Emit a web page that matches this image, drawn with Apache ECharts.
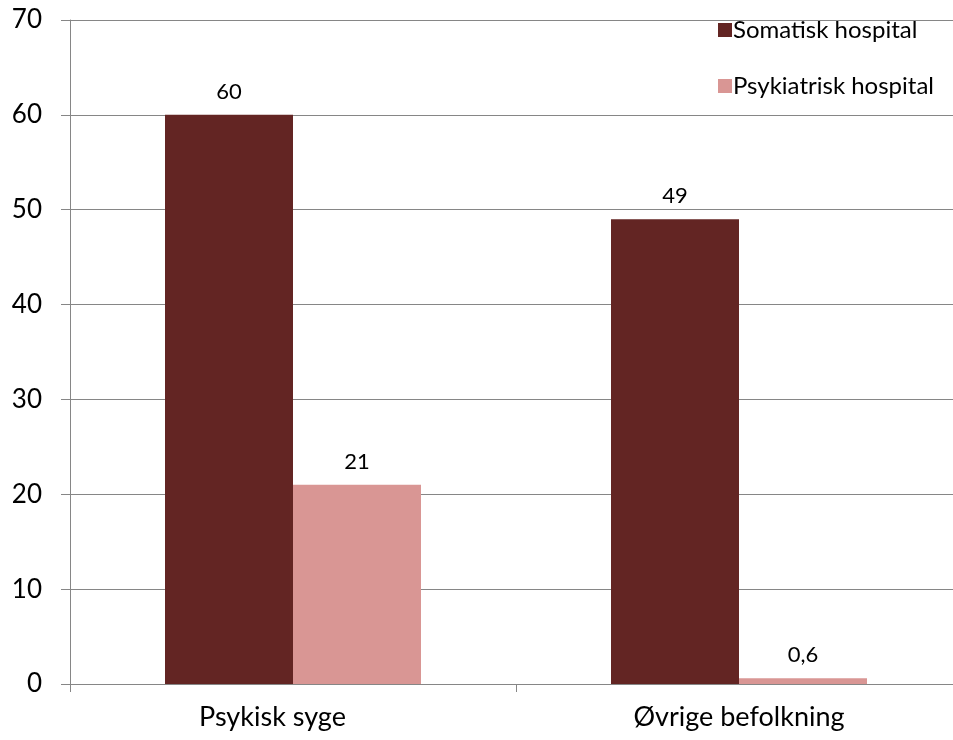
<!DOCTYPE html>
<html>
<head>
<meta charset="utf-8">
<script src="https://cdn.jsdelivr.net/npm/echarts@6/dist/echarts.min.js"></script>
<style>
  html, body { margin: 0; padding: 0; background: #ffffff; }
  #chart { width: 953px; height: 740px; }
</style>
</head>
<body>
<div id="chart"></div>
<script>
// Categories and values per hospital type
const categories = ['Psykisk syge', 'Øvrige befolkning'];
const somatisk = [60, 49];
const psykiatrisk = [21, 0.6];
const seriesNames = ['Somatisk hospital', 'Psykiatrisk hospital'];
const yTicks = [0, 10, 20, 30, 40, 50, 60, 70];

const FONT = 'Lato';
const chart = echarts.init(document.getElementById('chart'));

const fmt = v => String(v).replace('.', ',');

chart.setOption({
  animation: false,
  textStyle: { fontFamily: FONT, color: '#000' },
  // plot area runs slightly past the right edge of the canvas
  grid: { left: 70, top: 20, bottom: 56, width: 892, containLabel: false, outerBoundsMode: 'none' },
  legend: {
    orient: 'vertical',
    left: 713,
    top: 13,
    itemWidth: 14,
    itemHeight: 14,
    itemGap: 32,
    icon: 'rect',
    textStyle: { fontFamily: FONT, fontSize: 24, color: '#000', padding: [0, 0, 0, -4] },
    data: seriesNames
  },
  xAxis: {
    type: 'category',
    data: [
      { value: categories[0], textStyle: { padding: [0, 41, 0, 0] } },
      categories[1]
    ],
    axisLine: { lineStyle: { color: '#868686', width: 1 } },
    axisTick: { show: true, length: 8, lineStyle: { color: '#868686' } },
    axisLabel: { fontFamily: FONT, fontSize: 27, color: '#000', margin: 20 }
  },
  yAxis: {
    type: 'value',
    min: yTicks[0],
    max: yTicks[yTicks.length - 1],
    interval: 10,
    axisLine: { show: true, lineStyle: { color: '#868686', width: 1 } },
    axisTick: { show: true, inside: false, length: 9, lineStyle: { color: '#868686' } },
    axisLabel: { fontFamily: FONT, fontSize: 26, color: '#000', margin: 28 },
    splitLine: { show: true, lineStyle: { color: '#868686', width: 1 } }
  },
  series: [
    {
      name: seriesNames[0],
      type: 'bar',
      data: somatisk,
      barWidth: 128,
      barGap: '0%',
      itemStyle: { color: '#632523' },
      label: { show: true, position: 'top', distance: 12, fontFamily: FONT, fontSize: 22, color: '#000', formatter: p => fmt(p.value) }
    },
    {
      name: seriesNames[1],
      type: 'bar',
      data: psykiatrisk,
      barWidth: 128,
      barGap: '0%',
      itemStyle: { color: '#D99694' },
      label: { show: true, position: 'top', distance: 12, fontFamily: FONT, fontSize: 22, color: '#000', formatter: p => fmt(p.value) }
    }
  ]
});
</script>
</body>
</html>
